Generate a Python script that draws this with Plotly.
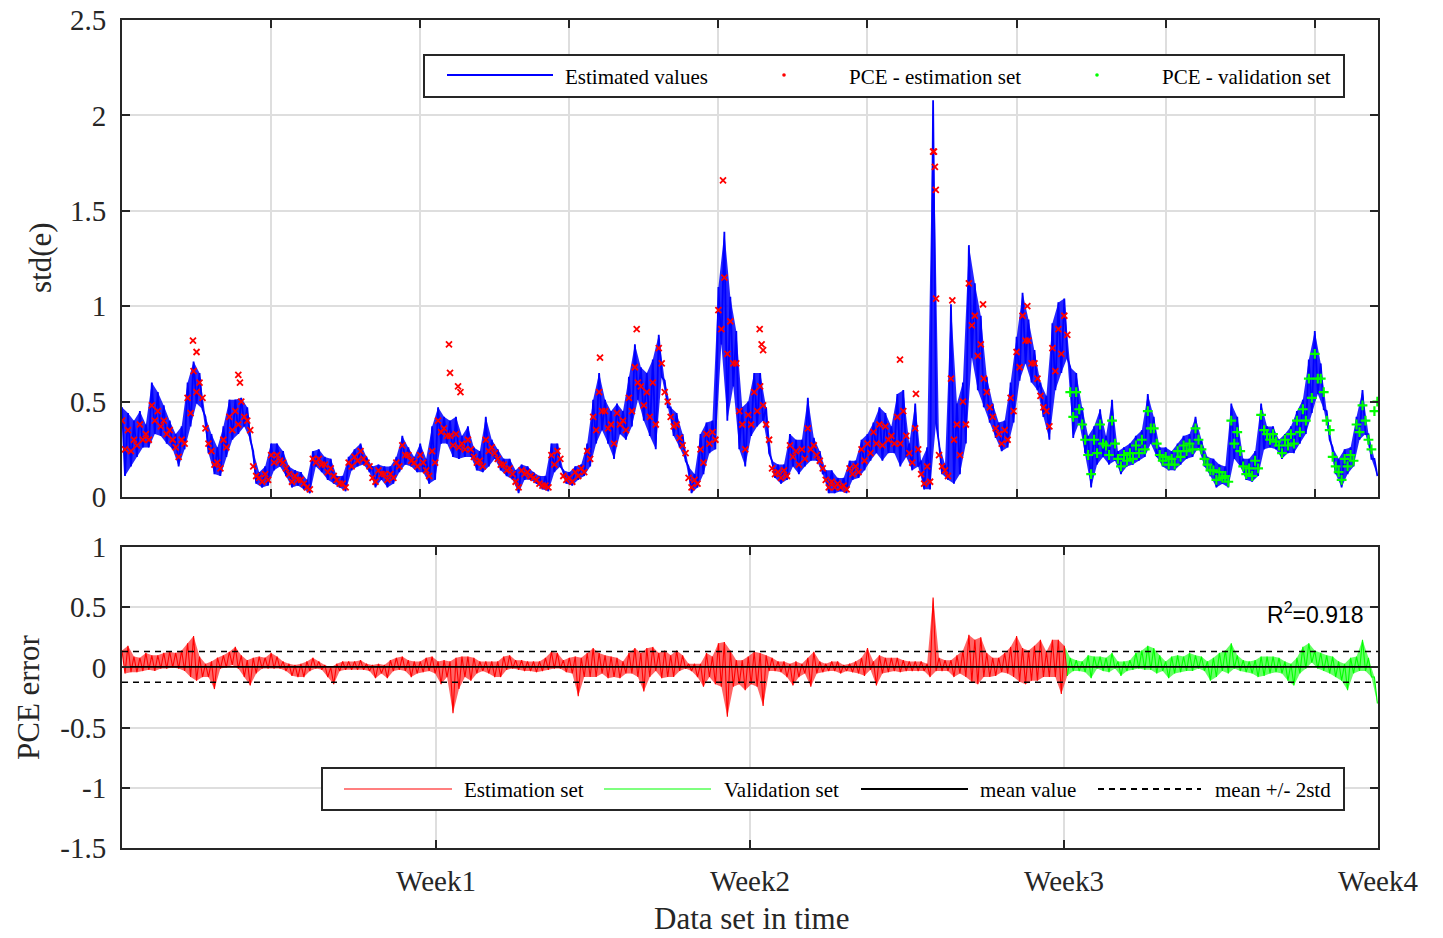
import plotly.graph_objects as go

# ---- data (one reading every STEP samples) ----
STEP = 40
N_SAMPLES = 8424
WEEK_LEN = 2106
VALID_START = 159          # first step index of the validation set

# Estimated std(e): upper / lower excursion inside each step
est_hi = [.47, .44, .40, .45, .38, .60, .55, .48, .40, .33,
          .37, .60, .71, .65, .42, .33, .26, .37, .51, .51,
          .52, .47, .24, .13, .16, .28, .28, .24, .16, .14,
          .13, .09, .24, .25, .21, .20, .11, .11, .21, .25,
          .28, .21, .16, .17, .16, .16, .21, .32, .26, .21,
          .28, .20, .37, .47, .42, .40, .42, .32, .37, .26,
          .24, .42, .30, .25, .20, .20, .14, .17, .16, .13,
          .11, .11, .28, .28, .14, .13, .16, .17, .28, .51,
          .65, .51, .45, .49, .45, .63, .80, .68, .65, .72,
          .85, .61, .47, .44, .33, .16, .12, .33, .39, .40,
          1.10, 1.39, 1.05, .87, .47, .50, .65, .65, .47, .19,
          .17, .17, .33, .30, .30, .52, .31, .24, .14, .14,
          .10, .10, .19, .19, .30, .33, .39, .47, .44, .37,
          .54, .56, .28, .49, .19, .26, 2.08, .28, .17, 1.01,
          .49, .60, 1.32, 1.12, .95, .63, .49, .39, .40, .60,
          .84, 1.07, .93, .77, .60, .53, .91, 1.02, 1.04, .68,
          .65, .47, .32, .37, .46, .32, .51, .24, .26, .28,
          .32, .35, .54, .42, .26, .26, .24, .28, .32, .33,
          .42, .30, .21, .20, .17, .16, .49, .42, .20, .20,
          .24, .49, .37, .37, .30, .33, .37, .45, .51, .72,
          .87, .70, .45, .26, .20, .25, .26, .42, .56, .33,
          .20]
est_lo = [.11, .16, .21, .26, .26, .33, .32, .28, .25, .16,
          .25, .37, .49, .46, .23, .12, .11, .21, .30, .33,
          .37, .30, .07, .05, .06, .14, .16, .11, .05, .06,
          .04, .02, .16, .13, .09, .07, .05, .03, .14, .16,
          .17, .13, .05, .09, .05, .07, .13, .17, .16, .13,
          .13, .07, .09, .28, .28, .21, .20, .21, .21, .14,
          .13, .16, .20, .14, .11, .09, .02, .09, .09, .07,
          .04, .03, .13, .16, .07, .06, .09, .11, .16, .28,
          .35, .28, .20, .33, .30, .37, .51, .40, .32, .25,
          .63, .47, .32, .26, .19, .02, .05, .12, .23, .25,
          .80, .40, .58, .25, .16, .32, .37, .40, .23, .10,
          .07, .09, .16, .12, .16, .19, .19, .12, .02, .02,
          .03, .02, .09, .10, .14, .19, .23, .19, .23, .23,
          .16, .21, .14, .16, .04, .04, .39, .12, .09, .07,
          .12, .28, .73, .56, .47, .39, .31, .24, .26, .39,
          .61, .70, .60, .56, .42, .30, .56, .65, .73, .31,
          .39, .23, .05, .17, .21, .17, .19, .12, .16, .17,
          .19, .21, .28, .21, .16, .14, .14, .17, .20, .21,
          .26, .16, .11, .05, .07, .05, .20, .16, .09, .08,
          .11, .25, .26, .25, .20, .23, .23, .28, .33, .44,
          .54, .46, .30, .12, .05, .12, .16, .30, .33, .20,
          .11]

# PCE model output, read at the start and at the middle of each step
pce_a = [.40, .35, .30, .38, .33, .48, .45, .40, .35, .26,
         .30, .52, .66, .60, .36, .24, .18, .30, .42, .45,
         .50, .40, .16, .10, .12, .22, .22, .18, .12, .11,
         .09, .05, .20, .20, .17, .15, .09, .07, .18, .21,
         .24, .18, .10, .14, .12, .12, .18, .27, .22, .18,
         .22, .14, .24, .40, .36, .32, .33, .28, .30, .21,
         .19, .30, .26, .20, .17, .15, .08, .14, .13, .10,
         .07, .06, .22, .24, .11, .10, .13, .15, .24, .42,
         .55, .45, .38, .44, .40, .52, .68, .58, .55, .60,
         .78, .55, .42, .38, .27, .10, .09, .25, .33, .34,
         .98, 1.15, .92, .70, .38, .43, .55, .58, .38, .15,
         .13, .14, .27, .24, .25, .36, .27, .19, .09, .08,
         .07, .06, .15, .16, .25, .28, .34, .38, .37, .32,
         .42, .45, .23, .36, .12, .16, 1.81, .22, .14, .62,
         .38, .50, 1.12, .95, .80, .55, .42, .33, .35, .52,
         .76, .95, .82, .70, .53, .45, .78, .88, .95, .55,
         .55, .38, .22, .30, .38, .27, .40, .20, .22, .23,
         .27, .30, .45, .36, .22, .21, .20, .24, .27, .28,
         .36, .25, .17, .14, .13, .11, .40, .34, .16, .15,
         .19, .43, .33, .33, .27, .30, .33, .40, .46, .62,
         .75, .62, .40, .21, .13, .20, .22, .38, .48, .30,
         .45]
pce_b = [.25, .24, .27, .30, .30, .40, .37, .33, .30, .21,
         .28, .44, .55, .52, .28, .17, .15, .26, .35, .38,
         .42, .35, .11, .08, .09, .18, .19, .15, .08, .09,
         .07, .04, .18, .17, .13, .11, .07, .05, .16, .19,
         .20, .16, .08, .12, .09, .10, .16, .22, .19, .16,
         .18, .11, .18, .34, .32, .27, .26, .25, .25, .18,
         .16, .24, .23, .17, .14, .12, .05, .12, .11, .09,
         .06, .05, .17, .20, .09, .08, .11, .13, .20, .35,
         .45, .36, .28, .38, .35, .45, .60, .48, .42, .38,
         .70, .50, .37, .31, .23, .05, .07, .18, .28, .30,
         .88, .75, .70, .45, .25, .38, .45, .48, .30, .12,
         .10, .11, .21, .17, .20, .25, .22, .15, .05, .05,
         .05, .04, .12, .13, .19, .23, .28, .27, .30, .28,
         .28, .32, .18, .25, .07, .08, 1.04, .16, .11, .30,
         .22, .38, .90, .74, .62, .47, .36, .28, .30, .45,
         .68, .82, .70, .62, .47, .37, .66, .75, .85, .42,
         .46, .30, .12, .23, .28, .22, .28, .16, .19, .20,
         .23, .25, .36, .28, .19, .17, .17, .21, .24, .25,
         .30, .20, .14, .09, .10, .08, .28, .24, .12, .11,
         .15, .35, .30, .29, .23, .27, .28, .34, .40, .52,
         .62, .55, .35, .16, .09, .16, .19, .34, .40, .25,
         .50]

# isolated PCE points standing clear of the estimated band (sample index, value)
pce_out_idx = [476, 500, 780, 791, 2193, 2200, 2254, 2270, 3206, 3452,
               4031, 4277, 4290, 4300, 5218, 5325, 5446, 5452, 5458, 5569,
               5775, 6072]
pce_out_val = [0.82, 0.76, 0.64, 0.60, 0.80, 0.65, 0.58, 0.55, 0.73, 0.88,
               1.66, 0.88, 0.80, 0.77, 0.72, 0.54, 1.81, 1.73, 1.61, 1.03,
               1.01, 1.00]

# PCE error: upper / lower excursion inside each step
err_hi = [.14, .18, .09, .08, .12, .10, .10, .12, .13, .12,
          .14, .20, .26, .09, .03, .05, .08, .10, .13, .17,
          .10, .06, .08, .09, .08, .12, .09, .05, .03, .02,
          .03, .05, .08, .05, .02, .00, .03, .05, .05, .05,
          .06, .03, .02, .03, .02, .06, .08, .09, .06, .05,
          .05, .08, .09, .05, .06, .05, .08, .09, .09, .08,
          .05, .05, .05, .05, .09, .10, .06, .06, .05, .05,
          .05, .08, .13, .12, .06, .08, .09, .08, .12, .16,
          .12, .10, .09, .08, .05, .12, .16, .12, .16, .17,
          .12, .14, .10, .14, .10, .03, .03, .03, .12, .09,
          .20, .21, .14, .06, .06, .09, .13, .12, .10, .08,
          .05, .05, .03, .05, .03, .08, .13, .05, .03, .05,
          .05, .02, .03, .05, .08, .16, .05, .10, .08, .08,
          .08, .06, .05, .05, .05, .03, .58, .08, .06, .06,
          .10, .14, .27, .23, .25, .12, .08, .08, .12, .17,
          .26, .16, .14, .18, .23, .13, .23, .23, .18, .08,
          .06, .05, .10, .09, .09, .08, .12, .05, .05, .06,
          .12, .14, .18, .16, .10, .05, .09, .10, .09, .12,
          .10, .09, .05, .08, .12, .14, .20, .10, .06, .05,
          .06, .09, .09, .09, .08, .05, .03, .08, .17, .20,
          .14, .12, .10, .09, .05, .03, .08, .09, .23, .08,
          -.08]
err_lo = [-.05, -.04, -.04, -.03, -.02, -.03, -.01, -.01, .00, -.01,
          -.03, -.08, -.11, -.08, -.08, -.18, -.01, .00, .02, -.01,
          -.08, -.15, -.05, -.01, -.01, -.01, -.01, -.03, -.07, -.08,
          -.08, -.03, -.01, -.02, -.08, -.14, -.03, -.02, -.02, -.02,
          -.02, -.03, -.09, -.05, -.09, -.03, -.02, -.03, -.08, -.05,
          -.04, -.03, -.05, -.14, -.08, -.38, -.18, -.08, -.11, -.05,
          -.03, -.05, -.08, -.08, -.02, -.01, -.02, -.03, -.03, -.04,
          -.03, -.02, -.01, -.01, -.04, -.05, -.24, -.08, -.08, -.08,
          -.05, -.09, -.08, -.09, -.05, -.05, -.08, -.20, -.08, -.03,
          -.09, -.08, -.08, -.03, -.01, -.03, -.08, -.16, -.08, -.14,
          -.16, -.41, -.16, -.14, -.19, -.14, -.16, -.32, -.03, -.03,
          -.04, -.08, -.15, -.08, -.05, -.16, -.05, -.04, -.03, -.03,
          -.05, -.03, -.04, -.05, -.07, -.02, -.15, -.05, -.04, -.03,
          -.04, -.03, -.03, -.03, -.03, -.08, -.03, -.03, -.03, -.08,
          -.05, -.08, -.12, -.14, -.08, -.08, -.07, -.04, -.05, -.08,
          -.12, -.14, -.11, -.11, -.08, -.08, -.08, -.22, -.07, -.03,
          -.03, -.04, -.09, -.01, -.03, -.04, -.01, -.07, -.03, -.02,
          -.01, -.02, -.02, -.05, -.03, -.09, -.05, -.04, -.03, -.03,
          -.01, -.03, -.11, -.08, -.03, -.05, -.01, -.03, -.04, -.05,
          -.08, -.07, -.05, -.04, -.05, -.11, -.15, -.05, -.01, .04,
          -.01, -.03, -.05, -.08, -.11, -.19, -.05, -.03, -.03, -.08,
          -.30]

ERR_MEAN = 0.005
ERR_2STD = 0.128
R2 = 0.918

WEEK_LABELS = ["Week1", "Week2", "Week3", "Week4"]
TOP_YTICKS = [0, 0.5, 1, 1.5, 2, 2.5]
BOT_YTICKS = [-1.5, -1, -0.5, 0, 0.5, 1]

# ---- series assembly ----
HALF = STEP // 2


def zigzag(hi, lo, start, stop):
    """Alternate between the upper and lower excursion of every step."""
    xs, ys = [], []
    for i in range(start, stop):
        xs += [i * STEP, i * STEP + HALF]
        ys += [hi[i], lo[i]]
    return xs, ys


def envelope(hi, lo, start, stop):
    """Closed outline running along the upper excursions and back along the lower ones."""
    xs = [i * STEP for i in range(start, stop)]
    xs += [i * STEP + HALF for i in range(stop - 1, start - 1, -1)]
    ys = list(hi[start:stop]) + list(lo[start:stop])[::-1]
    return xs, ys


n = len(est_hi)
bx, by = zigzag(est_hi, est_lo, 0, n)
bfx, bfy = envelope(est_hi, est_lo, 0, n)


def pce_points(start, stop, with_out):
    xs, ys = [], []
    for i in range(start, stop):
        xs += [i * STEP, i * STEP + HALF]
        ys += [pce_a[i], pce_b[i]]
    if with_out:
        xs += pce_out_idx
        ys += pce_out_val
    return xs, ys


px_e, py_e = pce_points(0, VALID_START, True)
px_v, py_v = pce_points(VALID_START, n, False)

ex_e, ey_e = zigzag(err_hi, err_lo, 0, VALID_START)
ex_v, ey_v = zigzag(err_hi, err_lo, VALID_START, n)
ex_v = [ex_e[-1]] + ex_v
ey_v = [ey_e[-1]] + ey_v
efx_e, efy_e = envelope(err_hi, err_lo, 0, VALID_START)
efx_v, efy_v = envelope(err_hi, err_lo, VALID_START - 1, n)

SERIF = "Liberation Serif, Times New Roman, serif"
SANS = "Liberation Sans, Arial, sans-serif"
AX = "#262626"
GRID = "#dedede"

fig = go.Figure()
# estimated values: band of the excursions plus the trace itself
fig.add_trace(go.Scatter(x=bfx, y=bfy, mode="lines", fill="toself",
                         fillcolor="rgba(0,0,255,0.85)", line=dict(width=0),
                         hoverinfo="skip", xaxis="x", yaxis="y"))
fig.add_trace(go.Scatter(x=bx, y=by, mode="lines", line=dict(color="#0000ff", width=1.8),
                         name="Estimated values", xaxis="x", yaxis="y"))
fig.add_trace(go.Scatter(x=px_e, y=py_e, mode="markers",
                         marker=dict(color="#ff0000", size=6, symbol="x-thin",
                                     line=dict(color="#ff0000", width=1.8)),
                         name="PCE - estimation set", xaxis="x", yaxis="y"))
fig.add_trace(go.Scatter(x=px_v, y=py_v, mode="markers",
                         marker=dict(color="#00ff00", size=7, symbol="cross-thin",
                                     line=dict(color="#00ff00", width=2.2)),
                         name="PCE - validation set", xaxis="x", yaxis="y"))

# PCE error
fig.add_trace(go.Scatter(x=efx_e, y=efy_e, mode="lines", fill="toself",
                         fillcolor="rgba(255,0,0,0.6)", line=dict(width=0),
                         hoverinfo="skip", xaxis="x2", yaxis="y2"))
fig.add_trace(go.Scatter(x=efx_v, y=efy_v, mode="lines", fill="toself",
                         fillcolor="rgba(0,255,0,0.6)", line=dict(width=0),
                         hoverinfo="skip", xaxis="x2", yaxis="y2"))
fig.add_trace(go.Scatter(x=ex_e, y=ey_e, mode="lines", line=dict(color="#ff0000", width=1.1),
                         name="Estimation set", xaxis="x2", yaxis="y2"))
fig.add_trace(go.Scatter(x=ex_v, y=ey_v, mode="lines", line=dict(color="#00ff00", width=1.1),
                         name="Validation set", xaxis="x2", yaxis="y2"))
fig.add_trace(go.Scatter(x=[0, N_SAMPLES], y=[ERR_MEAN, ERR_MEAN], mode="lines",
                         line=dict(color="#000000", width=1.8),
                         name="mean value", xaxis="x2", yaxis="y2"))
for sgn in (1, -1):
    fig.add_trace(go.Scatter(x=[0, N_SAMPLES], y=[ERR_MEAN + sgn * ERR_2STD] * 2, mode="lines",
                             line=dict(color="#000000", width=1.5, dash="6px,5px"),
                             name="mean +/- 2std", xaxis="x2", yaxis="y2"))

# ---- layout geometry (pixels) ----
W, H = 1443, 938
L, R, T, B = 122, 1378, 20, 848
TOP_BOTTOM, BOT_TOP = 497, 547


def fx(px):
    return (px - L) / (R - L)


def fy(py):
    return (B - py) / (B - T)


axis_common = dict(showline=True, linecolor=AX, linewidth=2, mirror="ticks",
                   ticks="inside", ticklen=8, tickwidth=2, tickcolor=AX,
                   showgrid=True, gridcolor=GRID, gridwidth=1.5, zeroline=False,
                   automargin=False,
                   tickfont=dict(family=SERIF, size=29, color="#262626"))

fig.update_layout(
    width=W, height=H,
    margin=dict(l=L, r=W - R, t=T, b=H - B, autoexpand=False),
    paper_bgcolor="white", plot_bgcolor="white",
    showlegend=False,
    xaxis=dict(domain=[0, 1], range=[0, N_SAMPLES], tick0=0, dtick=1000,
               showticklabels=False, anchor="y", **axis_common),
    yaxis=dict(domain=[fy(TOP_BOTTOM), 1], range=[0, 2.5], tickvals=TOP_YTICKS,
               ticktext=[f"{v:g}" for v in TOP_YTICKS], anchor="x",
               ticklabelstandoff=8, **axis_common),
    xaxis2=dict(domain=[0, 1], range=[0, N_SAMPLES],
                tickvals=[WEEK_LEN * (k + 1) for k in range(4)], ticktext=WEEK_LABELS,
                anchor="y2", ticklabelstandoff=6, **axis_common),
    yaxis2=dict(domain=[0, fy(BOT_TOP)], range=[-1.5, 1], tickvals=BOT_YTICKS,
                ticktext=[f"{v:g}" for v in BOT_YTICKS], anchor="x2",
                ticklabelstandoff=8, **axis_common),
)

shapes = []
ann = []

# axis titles
ann.append(dict(text="std(e)", x=fx(40), y=fy(258), textangle=-90))
ann.append(dict(text="PCE error", x=fx(28), y=fy(697), textangle=-90))
ann.append(dict(text="Data set in time", x=fx(751), y=fy(918)))
for a in ann:
    a.update(xref="paper", yref="paper", showarrow=False, xanchor="center", yanchor="middle",
             font=dict(family=SERIF, size=31, color="#262626"))

# R^2 label
ann.append(dict(text=f"R<sup>2</sup>={R2}", x=fx(1366), y=fy(613), xref="paper", yref="paper",
                showarrow=False, xanchor="right", yanchor="middle",
                font=dict(family=SANS, size=23, color="#000000")))

LEG_FONT = dict(family=SERIF, size=21, color="#000000")


def legend_box(x0, x1, y0, y1):
    shapes.append(dict(type="rect", xref="paper", yref="paper", x0=fx(x0), x1=fx(x1),
                       y0=fy(y1), y1=fy(y0), line=dict(color=AX, width=2),
                       fillcolor="white", layer="above"))


def legend_text(text, x, y):
    ann.append(dict(text=text, x=fx(x), y=fy(y), xref="paper", yref="paper", showarrow=False,
                    xanchor="left", yanchor="middle", font=LEG_FONT))


def legend_line(x0, x1, y, color, width, dash="solid"):
    shapes.append(dict(type="line", xref="paper", yref="paper", x0=fx(x0), x1=fx(x1),
                       y0=fy(y), y1=fy(y), line=dict(color=color, width=width, dash=dash),
                       layer="above"))


def legend_dot(x, y, color, r=1.8):
    shapes.append(dict(type="circle", xref="paper", yref="paper", x0=fx(x - r), x1=fx(x + r),
                       y0=fy(y + r), y1=fy(y - r), line=dict(color=color, width=0),
                       fillcolor=color, layer="above"))


# top legend
legend_box(424, 1344, 55, 97)
legend_line(447, 553, 75, "#0000ff", 2.2)
legend_text("Estimated values", 563, 77)
legend_dot(784, 75, "#ff0000")
legend_text("PCE - estimation set", 847, 77)
legend_dot(1097, 75, "#00ff00")
legend_text("PCE - validation set", 1160, 77)

# bottom legend
legend_box(322, 1344, 768, 810)
legend_line(344, 452, 789, "#ff0000", 1.2)
legend_text("Estimation set", 462, 790)
legend_line(604, 711, 789, "#00ff00", 1.2)
legend_text("Validation set", 722, 790)
legend_line(861, 968, 789, "#000000", 2.2)
legend_text("mean value", 978, 790)
legend_line(1098, 1201, 789, "#000000", 2, dash="6px,5px")
legend_text("mean +/- 2std", 1213, 790)

fig.update_layout(shapes=shapes, annotations=ann)

fig.write_html("out.html")
